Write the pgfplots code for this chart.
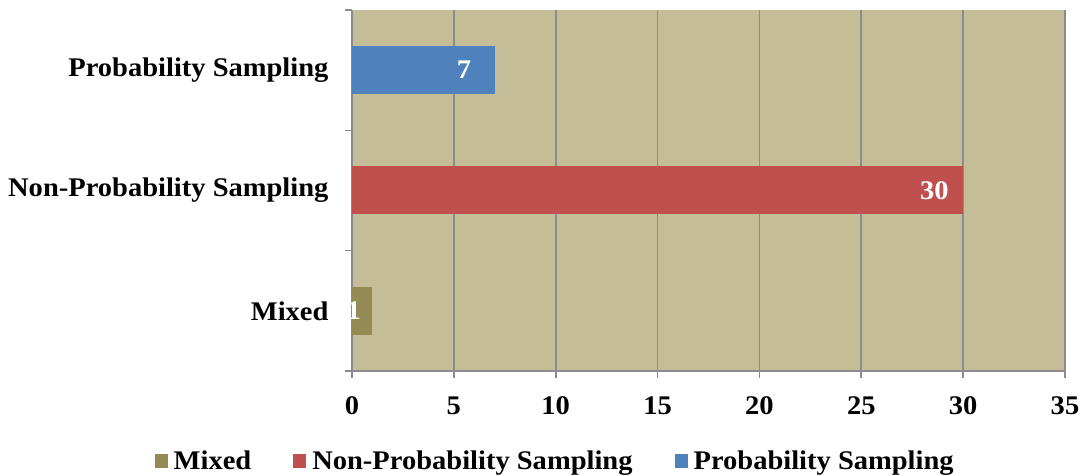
\documentclass[border=0pt]{standalone}
\usepackage{fontspec}
\setmainfont{Liberation Serif}[FakeStretch=1.06]
\usepackage{pgfplots}
\pgfplotsset{compat=1.18}

\definecolor{bgtan}{HTML}{C4BD97}
\definecolor{gridgray}{HTML}{8C8C8C}
\definecolor{mixcol}{HTML}{948A54}
\definecolor{noncol}{HTML}{C0504D}
\definecolor{probcol}{HTML}{4F81BD}

\begin{document}
\begin{tikzpicture}
\path[use as bounding box] (-352bp,-105bp) rectangle (732bp,371bp);
\begin{axis}[
    at={(0,0)}, anchor=south west,
    scale only axis,
    width=713bp, height=361bp,
    xbar, bar width=48bp, bar shift=0pt,
    xmin=0, xmax=35, ymin=-0.5, ymax=2.5,
    enlargelimits=false,
    axis lines*=left,
    axis line style={gridgray, line width=1.6bp},
    axis background/.style={fill=bgtan},
    xtick={0,5,...,35},
    xmajorgrids,
    grid style={gridgray, line width=1.6bp},
    tick style={gridgray, line width=1.6bp},
    tick align=outside,
    major tick length=7bp,
    ytick={-0.5,0.5,1.5,2.5},
    yticklabels={},
    extra y ticks={0,1,2},
    extra y tick labels={Mixed, Non-Probability Sampling, Probability Sampling},
    extra y tick style={tick style={draw=none}, major tick length=0pt},
    /pgf/number format/assume math mode=true,
    tick label style={font=\fontsize{27}{31}\selectfont\bfseries, black},
    xticklabel style={yshift=-15bp},
    yticklabel style={xshift=-20bp},
    nodes near coords,
    nodes near coords style={font=\fontsize{27}{31}\selectfont\bfseries, white, anchor=east},
    legend style={draw=none, fill=none, at={(0.285,-0.249)}, anchor=center,
        legend columns=-1, font=\fontsize{27}{31}\selectfont\bfseries,
        /tikz/every even column/.append style={column sep=40bp}},
    legend image code/.code={\fill[#1] (0bp,-7bp) rectangle (13bp,7bp); \path (17bp,0bp);},
]
\addplot[fill=mixcol, draw=none,
    every node near coord/.append style={xshift=-8bp}]
    coordinates {(1,0)};
\addlegendentry{Mixed}
\addplot[fill=noncol, draw=none,
    every node near coord/.append style={xshift=-11bp}]
    coordinates {(30,1)};
\addlegendentry{Non-Probability Sampling}
\addplot[fill=probcol, draw=none,
    every node near coord/.append style={xshift=-20bp}]
    coordinates {(7,2)};
\addlegendentry{Probability Sampling}
\end{axis}
\end{tikzpicture}
\end{document}
